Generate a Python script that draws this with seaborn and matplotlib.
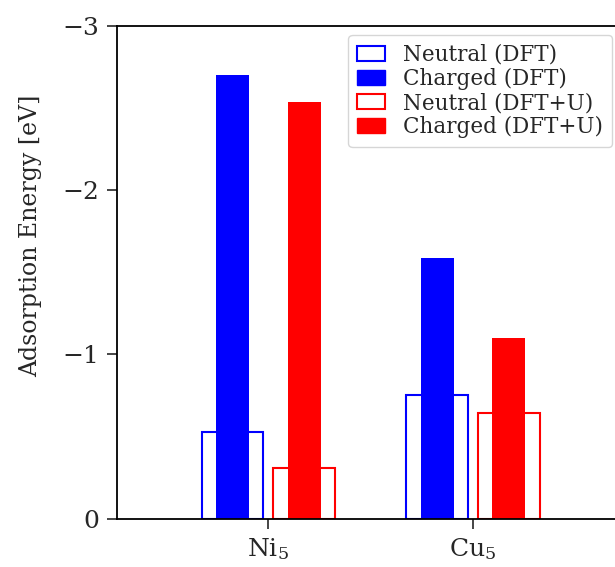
import pandas as pd
import matplotlib
matplotlib.use("Agg")
import matplotlib.pyplot as plt
from matplotlib.patches import Patch
import seaborn as sns

# ------------------------------
# Data
# ------------------------------
systems = ["Ni$_5$", "Cu$_5$"]
methods = ["DFT", "DFT+U"]
neutral_dft = [-0.53, -0.75]
charged_dft = [-2.70, -1.59]
neutral_dftu = [-0.31, -0.64]
charged_dftu = [-2.54, -1.10]

colors = ["blue", "red"]

neutral = pd.DataFrame({
    "system": systems * 2,
    "method": ["DFT"] * 2 + ["DFT+U"] * 2,
    "energy": neutral_dft + neutral_dftu,
})
charged = pd.DataFrame({
    "system": systems * 2,
    "method": ["DFT"] * 2 + ["DFT+U"] * 2,
    "energy": charged_dft + charged_dftu,
})

# ------------------------------
# Style
# ------------------------------
sns.set_style("ticks")
plt.rcParams["font.family"] = ["DejaVu Serif"]
plt.rcParams["mathtext.fontset"] = "dejavuserif"

fig = plt.figure(figsize=(6.15, 5.67), dpi=100)
ax = fig.add_axes([0.190, 0.0855, 0.8255, 0.8685])

# hollow neutral bars
sns.barplot(data=neutral, x="system", y="energy", hue="method",
            order=systems, hue_order=methods, palette=colors,
            fill=False, width=0.7, gap=0.14, linewidth=1.5,
            saturation=1, errorbar=None, legend=False, ax=ax)

# filled charged bars on top
sns.barplot(data=charged, x="system", y="energy", hue="method",
            order=systems, hue_order=methods, palette=colors,
            fill=True, width=0.7, gap=0.54, linewidth=0,
            saturation=1, errorbar=None, legend=False, ax=ax)

ax.set_xlim(-0.74, 1.74)
ax.set_ylim(0, -3)
ax.set_yticks([0, -1, -2, -3])
ax.set_xlabel("")
ax.set_ylabel("Adsorption Energy [eV]", fontsize=17)
ax.yaxis.set_label_coords(-0.148, 0.574)
ax.tick_params(axis="both", labelsize=18, length=7, width=1.2)
ax.tick_params(axis="x", pad=5.5)
ax.tick_params(axis="y", pad=6)
for sp in ax.spines.values():
    sp.set_linewidth(1.3)
    sp.set_color("black")

handles = [
    Patch(facecolor="none", edgecolor="blue", linewidth=1.5, label="Neutral (DFT)"),
    Patch(facecolor="blue", edgecolor="blue", label="Charged (DFT)"),
    Patch(facecolor="none", edgecolor="red", linewidth=1.5, label="Neutral (DFT+U)"),
    Patch(facecolor="red", edgecolor="red", label="Charged (DFT+U)"),
]
ax.legend(handles=handles, loc="upper right", bbox_to_anchor=(0.995, 0.938),
          bbox_transform=fig.transFigure, borderaxespad=0, fontsize=15.5,
          labelspacing=0.1, handlelength=1.3, handletextpad=0.85)

plt.savefig("out.png", dpi=100)
plt.close()
